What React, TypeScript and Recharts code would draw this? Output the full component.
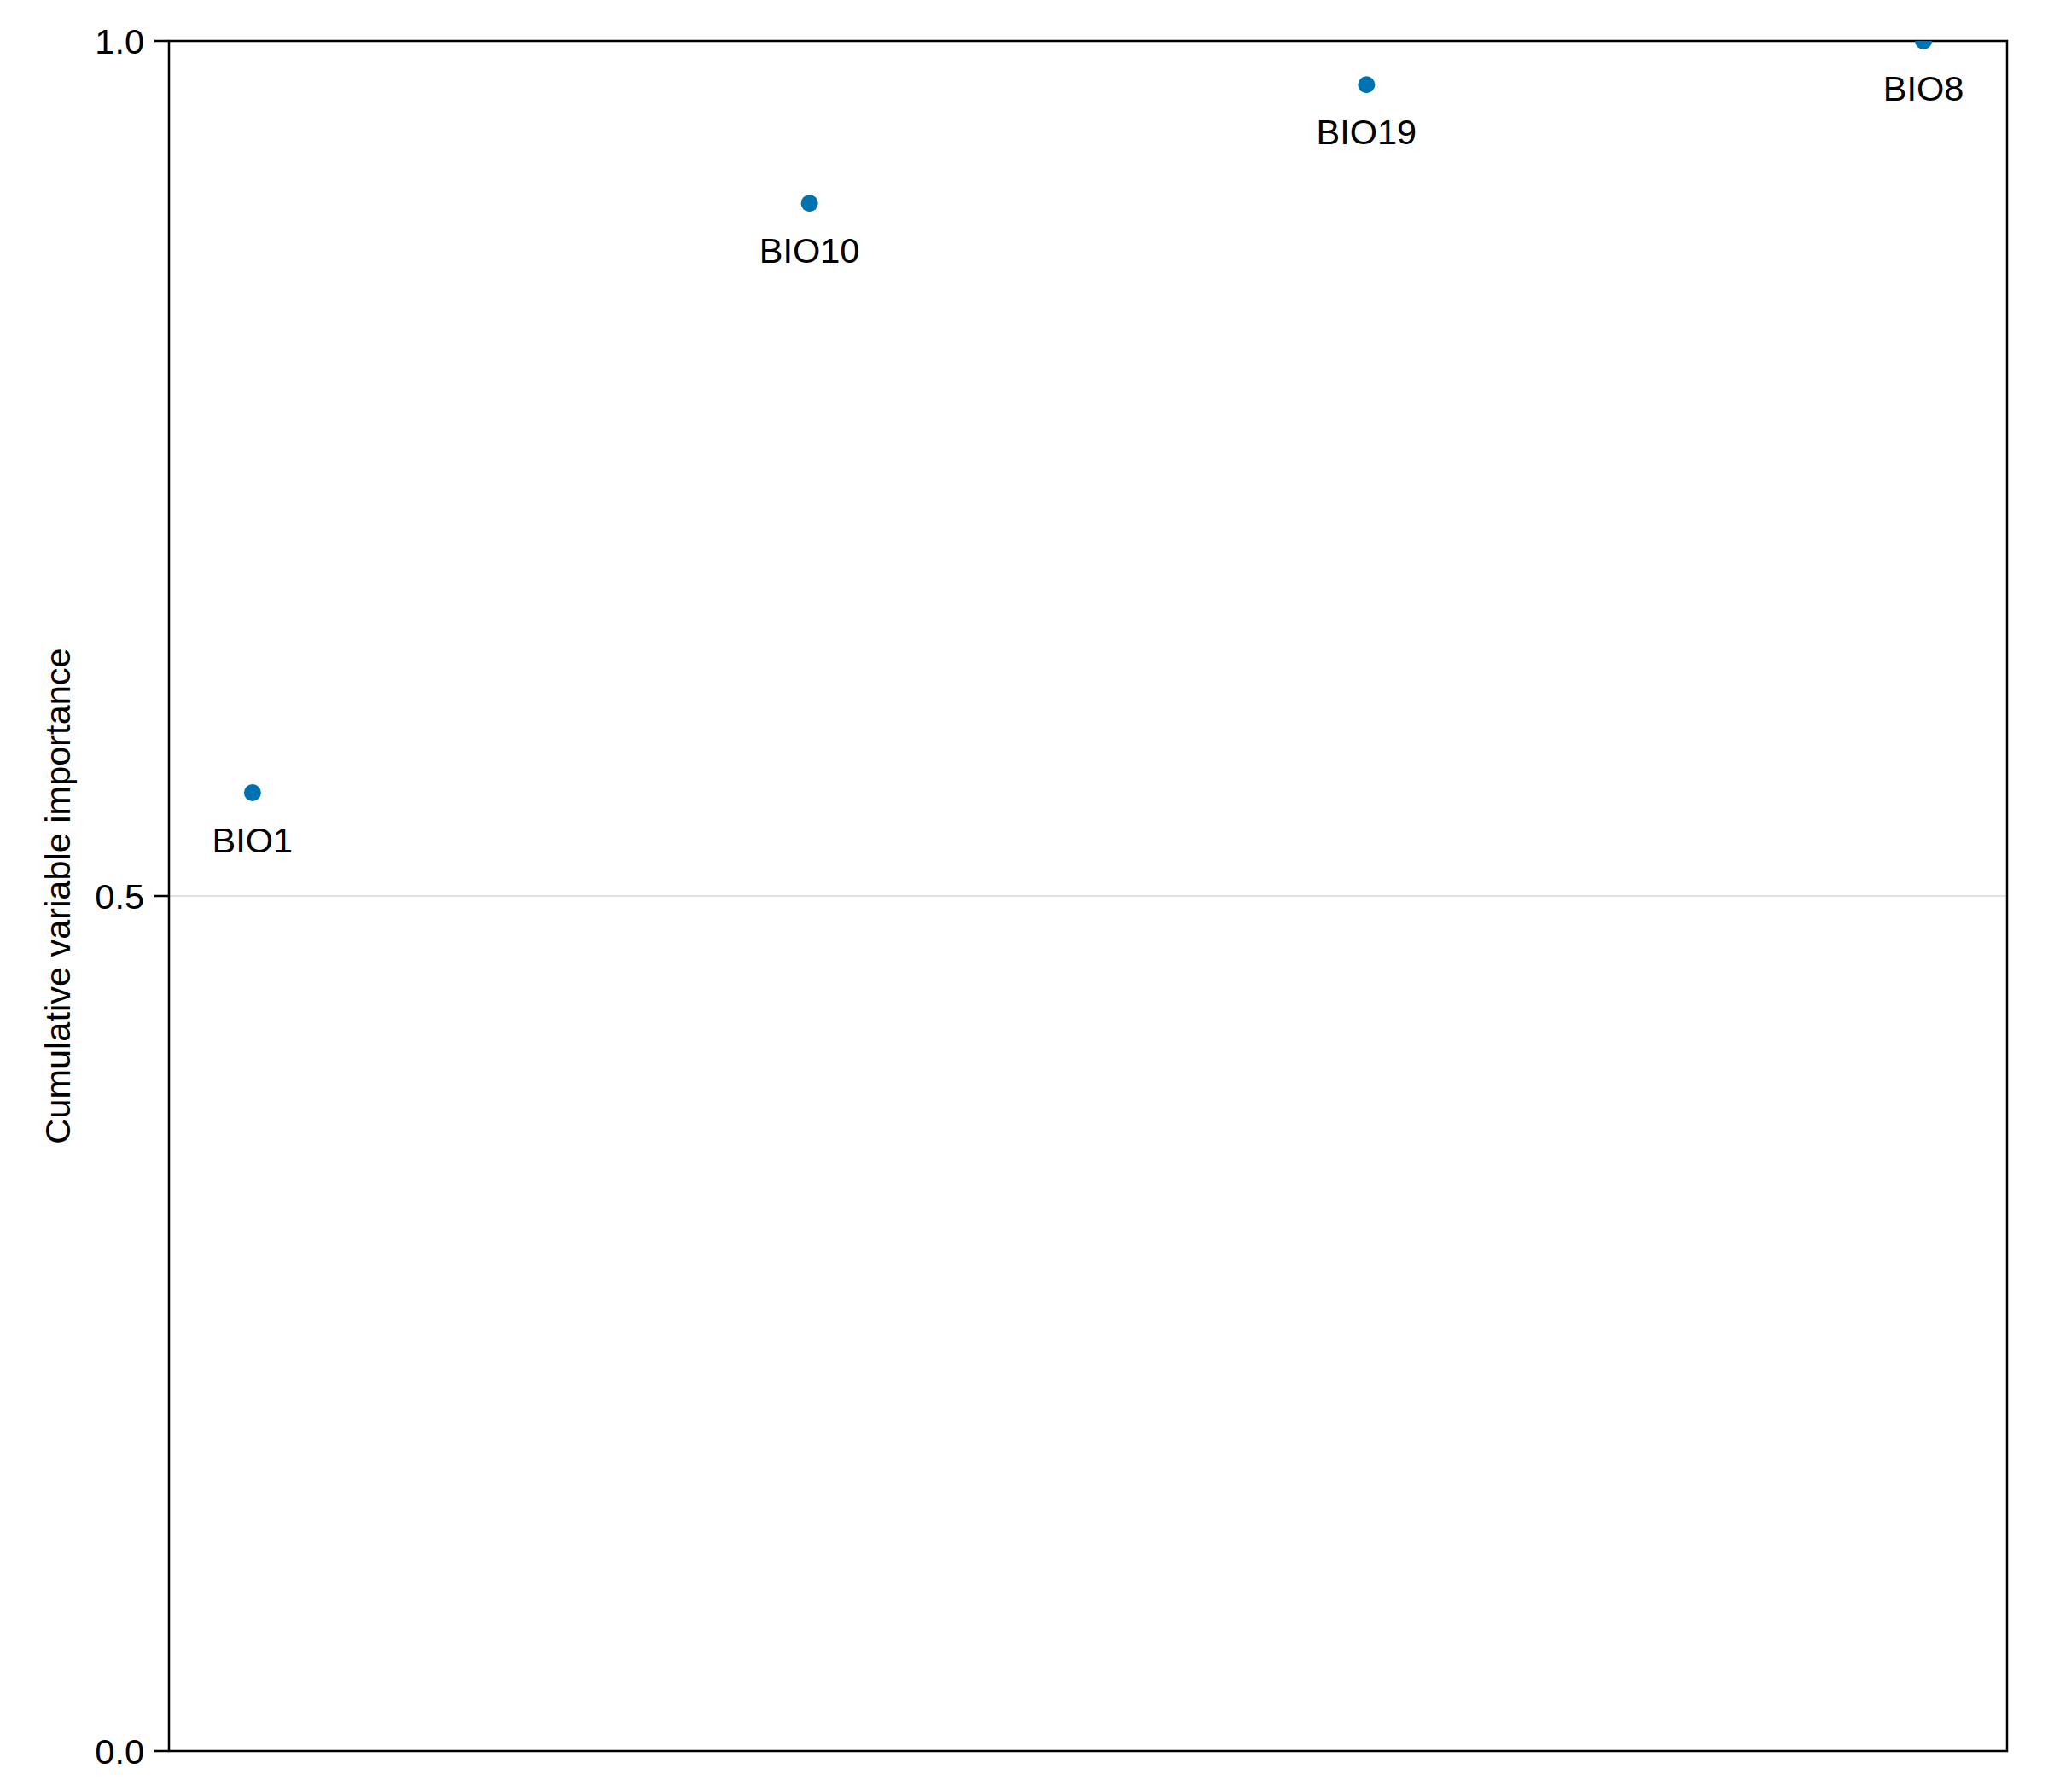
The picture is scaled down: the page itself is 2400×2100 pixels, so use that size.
import React from 'react';
import { ScatterChart, Scatter, XAxis, YAxis, CartesianGrid, ReferenceArea } from 'recharts';

const variables = ['BIO1', 'BIO10', 'BIO19', 'BIO8'];
const positions = [1, 2, 3, 4];
const importance = [0.5604, 0.9051, 0.9744, 1.0];
const yTicks = [0, 0.5, 1];
const xDomain = [0.85, 4.15];
const yDomain = [0, 1];

const data = variables.map((name, i) => ({ name, x: positions[i], y: importance[i] }));

const FONT = '"Liberation Sans", Arial, Helvetica, sans-serif';
const DOT = '#0072B2';
const FS = 41.5;

const PointShape = (props: any) => {
  const { cx, cy, payload } = props;
  return (
    <g>
      <circle cx={cx} cy={cy} r={10} fill={DOT} />
      <text x={cx} y={cy + 70} textAnchor="middle" fontSize={FS} fontFamily={FONT} fill="#000">
        {payload.name}
      </text>
    </g>
  );
};

const YLabel = (props: any) => {
  const vb = props.viewBox || {};
  const cy = (vb.y ?? 48) + (vb.height ?? 2004) / 2;
  const x = (vb.x ?? 0) + 82;
  return (
    <text
      x={x}
      y={cy}
      transform={`rotate(-90 ${x} ${cy})`}
      textAnchor="middle"
      fontSize={FS}
      fontFamily={FONT}
      fill="#000"
    >
      Cumulative variable importance
    </text>
  );
};

export default function App() {
  return (
    <div style={{ position: 'absolute', left: 0, top: 0, background: '#fff' }}>
      <ScatterChart
        width={2400}
        height={2100}
        margin={{ top: 48, right: 48, bottom: 48, left: 0 }}
      >
        <CartesianGrid vertical={false} stroke="rgba(0,0,0,0.12)" strokeWidth={2} />
        <XAxis
          dataKey="x"
          type="number"
          domain={xDomain}
          allowDataOverflow
          tick={false}
          tickLine={false}
          height={0}
          axisLine={false}
        />
        <YAxis
          dataKey="y"
          type="number"
          domain={yDomain}
          allowDataOverflow
          ticks={yTicks}
          interval={0}
          width={198}
          tickSize={17}
          tickMargin={12}
          tickFormatter={(v: number) => v.toFixed(1)}
          tick={{ fontSize: FS, fontFamily: FONT, fill: '#000' }}
          tickLine={{ stroke: '#000', strokeWidth: 2.5 }}
          axisLine={false}
          label={<YLabel />}
        />
        <Scatter
          data={data}
          fill={DOT}
          shape={PointShape}
          isAnimationActive={false}
        />
        <ReferenceArea
          x1={xDomain[0]}
          x2={xDomain[1]}
          y1={yDomain[0]}
          y2={yDomain[1]}
          fill="none"
          fillOpacity={0}
          stroke="#000"
          strokeWidth={2.5}
          strokeOpacity={1}
          ifOverflow="visible"
        />
      </ScatterChart>
    </div>
  );
}
